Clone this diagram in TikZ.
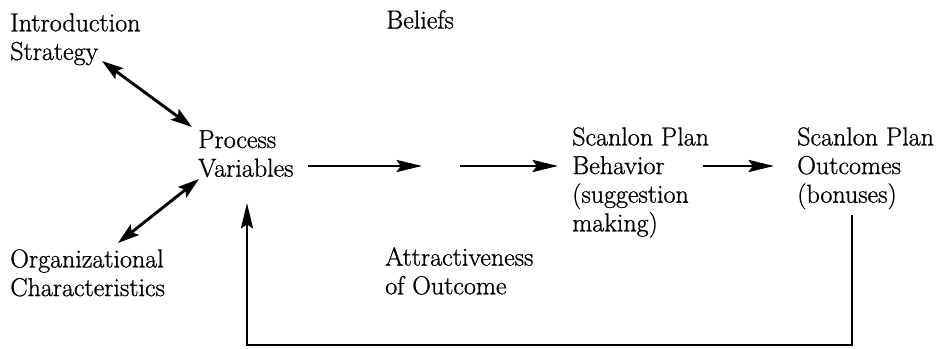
\documentclass[tikz,border=0pt]{standalone}
\usepackage{fontspec}
\usepackage{tikz}
\usetikzlibrary{arrows.meta}

\newfontfamily\diagfont{Latin Modern Roman}[FakeBold=0.9]

\tikzset{
  txt/.style={anchor=north west,inner sep=0pt,align=left,font=\diagfont\fontsize{19.5}{21.5}\selectfont},
  link/.style={line width=2.2pt,-{Stealth[length=19pt,width=9pt,inset=3pt]}},
  twoway/.style={line width=2.2pt,{Stealth[length=16pt,width=10pt,inset=3pt]}-{Stealth[length=16pt,width=10pt,inset=3pt]}},
}

\begin{document}
\begin{tikzpicture}[x=0.75pt,y=0.75pt,yscale=-1,xscale=1]
\useasboundingbox (0,0) rectangle (945,349);

% Text Node
\node (intro) at (10,13) [txt] {Introduction\\Strategy};
% Text Node
\node (beliefs) at (386,10) [txt] {Beliefs};
% Text Node
\node (process) at (198,130) [txt] {Process\\Variables};
% Text Node
\node (behav) at (572,127) [txt] {Scanlon Plan\\Behavior\\(suggestion\\making)};
% Text Node
\node (outc) at (797,127) [txt] {Scanlon Plan\\Outcomes\\(bonuses)};
% Text Node
\node (attr) at (385,247) [txt] {Attractiveness\\of Outcome};
% Text Node
\node (org) at (10,249) [txt] {Organizational\\Characteristics};

% arrow ends
\coordinate (introout) at (102,61);
\coordinate (pvtop) at (192,127);
\coordinate (pvlow) at (199,179);
\coordinate (orgout) at (118,243);
\coordinate (pvout) at (308,166);
\coordinate (gapin) at (422,166);
\coordinate (gapout) at (460,166);
\coordinate (behavin) at (558,166);
\coordinate (behavout) at (703,166);
\coordinate (outcin) at (774,166);
\coordinate (fbtop) at (852,215);
\coordinate (fbbase) at (550,345);
\coordinate (fbin) at (247,203);

%Straight Lines
\draw [twoway] (introout) -- (pvtop);
\draw [twoway] (orgout) -- (pvlow);
\draw [link] (pvout) -- (gapin);
\draw [link] (gapout) -- (behavin);
\draw [link] (behavout) -- (outcin);
%Feedback loop
\draw [link] (fbtop) |- (fbbase) -| (fbin);

\end{tikzpicture}
\end{document}
